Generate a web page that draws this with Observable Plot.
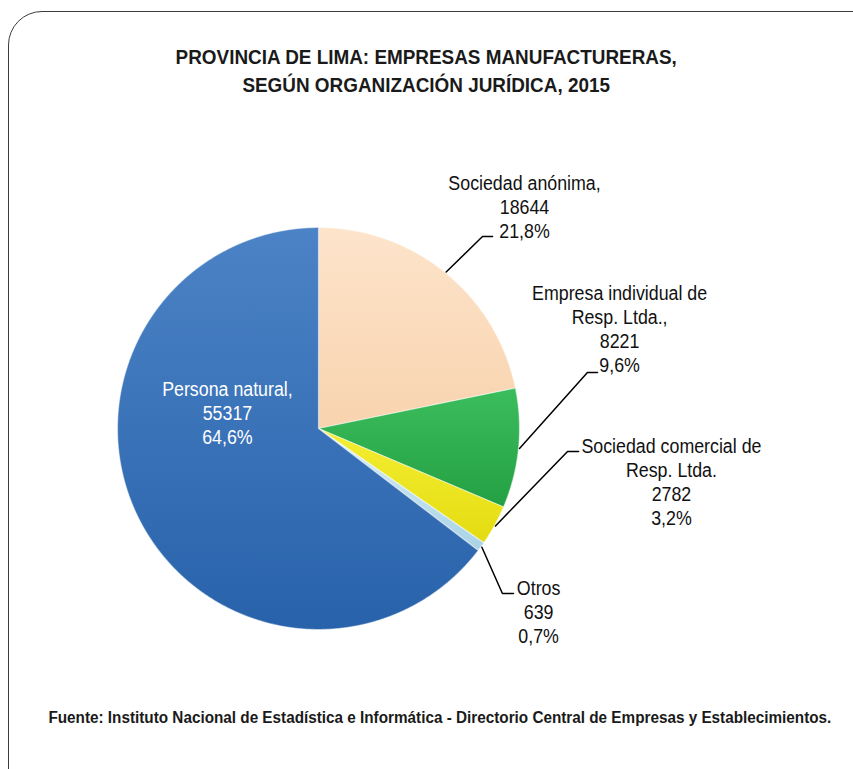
<!DOCTYPE html>
<html>
<head>
<meta charset="utf-8">
<script src="https://cdn.jsdelivr.net/npm/d3@7"></script>
<script src="https://cdn.jsdelivr.net/npm/@observablehq/plot@0.6"></script>
<style>
  html, body { margin: 0; padding: 0; background: #fff; }
  #wrap { position: relative; width: 853px; height: 769px; overflow: hidden; background: #fff;
          font-family: "Liberation Sans", Arial, sans-serif; }
  #frame { position: absolute; left: 8px; top: 11px; width: 880px; height: 790px;
           border: 1.6px solid #3c3c3c; border-radius: 34px; pointer-events: none; }
  #title { position: absolute; left: 0; top: 43px; width: 853px; text-align: center;
           font-weight: bold; font-size: 20px; line-height: 28px; color: #1a1a1a; }
  #title span { display: inline-block; transform: scaleX(0.945); transform-origin: center; }
  #chart { position: absolute; left: 0; top: 110px; }
  #caption { position: absolute; left: 0; top: 707px; width: 880px; text-align: center;
             font-weight: bold; font-size: 16px; line-height: 22px; color: #1a1a1a; white-space: nowrap; }
  #caption span { display: inline-block; transform: scaleX(0.955); transform-origin: center; }
</style>
</head>
<body>
<div id="wrap">
  <div id="frame"></div>
  <div id="title"><span>PROVINCIA DE LIMA: EMPRESAS MANUFACTURERAS,<br>SEGÚN ORGANIZACIÓN JURÍDICA, 2015</span></div>
  <div id="chart"></div>
  <div id="caption"><span>Fuente: Instituto Nacional de Estadística e Informática - Directorio Central de Empresas y Establecimientos.</span></div>
</div>
<script>
// ---- data ----
const categories = ["Sociedad anónima", "Empresa individual de Resp. Ltda.", "Sociedad comercial de Resp. Ltda.", "Otros", "Persona natural"];
const labelNames = ["Sociedad anónima,", "Empresa individual de\nResp. Ltda.,", "Sociedad comercial de\nResp. Ltda.", "Otros", "Persona natural,"];
const values = [18644, 8221, 2782, 639, 55317];
const percents = ["21,8%", "9,6%", "3,2%", "0,7%", "64,6%"];

// ---- styling / layout (not data) ----
const gradientStops = [
  ["#fde4cb", "#f8d3ae"],
  ["#3cbd5c", "#23a043"],
  ["#f4ee33", "#e4dc10"],
  ["#d6eef7", "#a9d3e6"],
  ["#4c83c6", "#2862aa"]
];
const textColors = ["#111", "#111", "#111", "#111", "#ffffff"];
// label block centers, leader elbows and ends (in radius units, y up)
const labelPos = [[1.025, 1.104], [1.498, 0.498], [1.756, -0.264], [1.095, -0.910], [-0.453, 0.080]];
const elbowPos = [[0.816, 0.955], [1.338, 0.279], [1.239, -0.114], [0.915, -0.821], null];
const endPos   = [[0.866, 0.955], [1.388, 0.279], [1.294, -0.114], [0.970, -0.821], null];

// ---- geometry from data ----
const arcs = d3.pie().sort(null).value(d => d)(values);
const slicePts = [];
arcs.forEach((a, i) => {
  slicePts.push({k: categories[i], x: 0, y: 0, g: `url(#grad${i})`});
  const n = Math.max(2, Math.ceil((a.endAngle - a.startAngle) / 0.005));
  for (let j = 0; j <= n; j++) {
    const t = a.startAngle + (a.endAngle - a.startAngle) * j / n;
    slicePts.push({k: categories[i], x: Math.sin(t), y: Math.cos(t), g: `url(#grad${i})`});
  }
});

const leaderPts = [];
arcs.forEach((a, i) => {
  if (!elbowPos[i]) return;
  const m = (a.startAngle + a.endAngle) / 2;
  leaderPts.push({k: categories[i], x: Math.sin(m) * 1.005, y: Math.cos(m) * 1.005});
  leaderPts.push({k: categories[i], x: elbowPos[i][0], y: elbowPos[i][1]});
  leaderPts.push({k: categories[i], x: endPos[i][0], y: endPos[i][1]});
});

const labels = categories.map((c, i) => ({
  k: c,
  x: labelPos[i][0], y: labelPos[i][1],
  text: `${labelNames[i]}\n${values[i]}\n${percents[i]}`,
  color: textColors[i]
}));

const defsMark = () => {
  const defs = d3.create("svg:defs");
  gradientStops.forEach((s, i) => {
    const g = defs.append("linearGradient").attr("id", `grad${i}`)
      .attr("x1", 0).attr("y1", 0).attr("x2", 0).attr("y2", 1);
    g.append("stop").attr("offset", "0%").attr("stop-color", s[0]);
    g.append("stop").attr("offset", "100%").attr("stop-color", s[1]);
  });
  return defs.node();
};

const R = 201, CX = 318, CY = 318;
const chart = Plot.plot({
  width: 853,
  height: 560,
  style: {background: "none", overflow: "visible"},
  x: {domain: [-1, 1], range: [CX - R, CX + R], axis: null},
  y: {domain: [-1, 1], range: [CY + R, CY - R], axis: null},
  color: {type: "identity"},
  marks: [
    defsMark,
    Plot.line(slicePts, {x: "x", y: "y", z: "k", fill: "g", stroke: "#ffffff", strokeOpacity: 0.45, strokeWidth: 1.2, curve: "linear-closed"}),
    Plot.line(leaderPts, {x: "x", y: "y", z: "k", stroke: "#000", strokeWidth: 1.5}),
    Plot.text(labels, {x: "x", y: "y", text: "text", fill: "color", fontSize: 20, lineHeight: 1.2, lineAnchor: "middle", textAnchor: "middle",
      fontFamily: "'Liberation Sans', Arial, sans-serif"})
  ]
});
// condense label glyphs horizontally to mimic the narrow typeface
d3.select(chart).selectAll("g[aria-label=text] text").each(function() {
  const t = this.getAttribute("transform");
  if (t) this.setAttribute("transform", t + " scale(0.89,1)");
});
document.getElementById("chart").appendChild(chart);
</script>
</body>
</html>
